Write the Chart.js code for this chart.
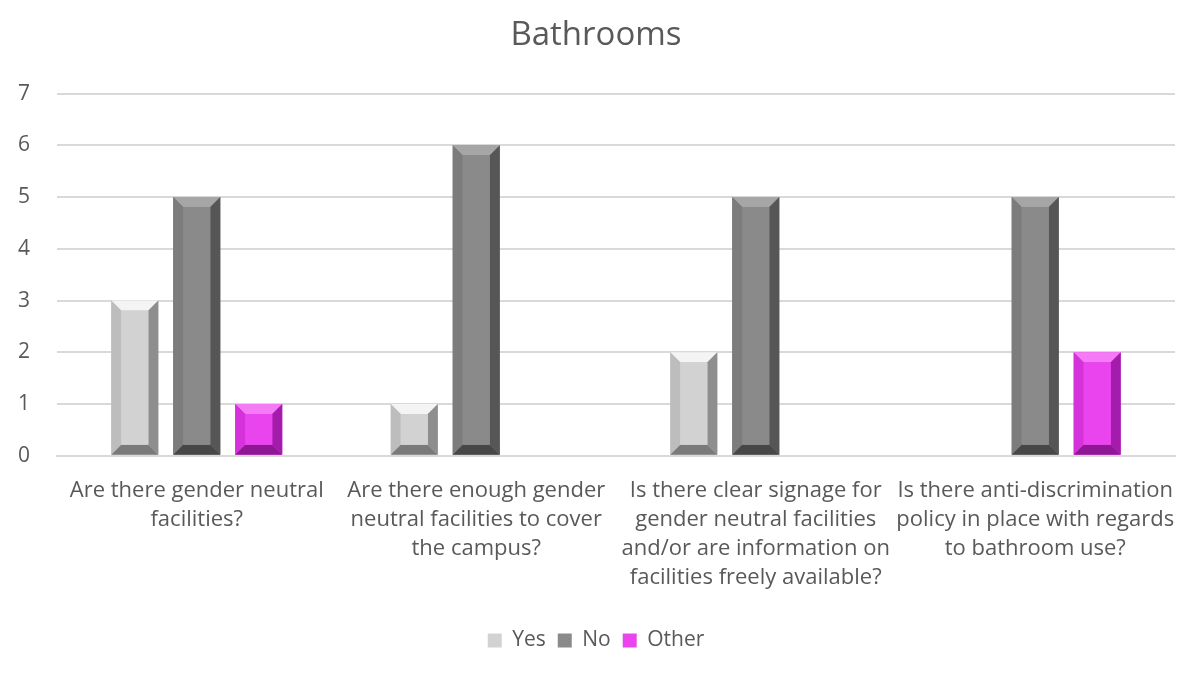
<!DOCTYPE html>
<html>
<head>
<meta charset="utf-8">
<script src="https://cdn.jsdelivr.net/npm/chart.js@4"></script>
<style>
  body { margin: 0; background: #fff; }
  #wrap { width: 1192px; height: 680px; }
</style>
</head>
<body>
<div id="wrap"><canvas id="bath"></canvas></div>
<script>
const categories = [
  ['Are there gender neutral', 'facilities?'],
  ['Are there enough gender', 'neutral facilities to cover', 'the campus?'],
  ['Is there clear signage for', 'gender neutral facilities', 'and/or are information on', 'facilities freely available?'],
  ['Is there anti-discrimination', 'policy in place with regards', 'to bathroom use?']
]
const yes = [3, 1, 2, 0]
const no = [5, 6, 5, 5]
const other = [1, 0, 0, 2]

// face / top / left / right / bottom shades for the bevel look
const shades = [
  { face: '#d2d2d2', top: '#f4f4f4', left: '#bdbdbd', right: '#8e8e8e', bottom: '#7a7a7a' },
  { face: '#8a8a8a', top: '#a6a6a6', left: '#7c7c7c', right: '#565656', bottom: '#474747' },
  { face: '#ea44ee', top: '#f47af6', left: '#d632dc', right: '#a41cab', bottom: '#8e1894' }
]

const bevel = {
  id: 'bevel',
  afterDatasetsDraw(chart) {
    const ctx = chart.ctx
    chart.data.datasets.forEach((ds, i) => {
      const meta = chart.getDatasetMeta(i)
      const s = shades[i]
      meta.data.forEach((bar, j) => {
        if (!ds.data[j]) return
        const p = bar.getProps(['x', 'y', 'base', 'width'], true)
        const l = p.x - p.width / 2, r = p.x + p.width / 2
        const t = p.y, b = p.base
        const d = Math.min(10, (b - t) / 2, p.width / 2)
        const poly = (pts, c) => {
          ctx.beginPath()
          ctx.moveTo(pts[0][0], pts[0][1])
          pts.slice(1).forEach(q => ctx.lineTo(q[0], q[1]))
          ctx.closePath()
          ctx.fillStyle = c
          ctx.fill()
        }
        ctx.save()
        poly([[l, t], [r, t], [r - d, t + d], [l + d, t + d]], s.top)
        poly([[l, t], [l + d, t + d], [l + d, b - d], [l, b]], s.left)
        poly([[r, t], [r, b], [r - d, b - d], [r - d, t + d]], s.right)
        poly([[l, b], [l + d, b - d], [r - d, b - d], [r, b]], s.bottom)
        poly([[l + d, t + d], [r - d, t + d], [r - d, b - d], [l + d, b - d]], s.face)
        ctx.restore()
      })
    })
  }
}

Chart.defaults.font.family = '"Open Sans", Lato, sans-serif'
Chart.defaults.color = '#595959'

new Chart(document.getElementById('bath'), {
  type: 'bar',
  data: {
    labels: categories,
    datasets: [
      { label: 'Yes', data: yes, backgroundColor: shades[0].face, borderWidth: 0 },
      { label: 'No', data: no, backgroundColor: shades[1].face, borderWidth: 0 },
      { label: 'Other', data: other, backgroundColor: shades[2].face, borderWidth: 0 }
    ]
  },
  options: {
    responsive: true,
    maintainAspectRatio: false,
    animation: false,
    layout: { padding: { left: 17, right: 17, top: 10, bottom: 19 } },
    categoryPercentage: 0.665,
    barPercentage: 0.76,
    plugins: {
      title: {
        display: true,
        text: 'Bathrooms',
        font: { size: 33, weight: '400' },
        color: '#595959',
        padding: { top: 6, bottom: 38 }
      },
      legend: {
        position: 'bottom',
        labels: {
          boxWidth: 14,
          boxHeight: 14,
          font: { size: 21 },
          color: '#595959',
          padding: 12
        }
      },
      tooltip: { enabled: false }
    },
    scales: {
      y: {
        min: 0,
        max: 7,
        ticks: { stepSize: 1, font: { size: 21 }, color: '#595959', padding: 27 },
        grid: { color: '#d9d9d9', lineWidth: 2, drawTicks: false },
        border: { display: false },
        afterFit(scale) { scale.width = 40 }
      },
      x: {
        ticks: { font: { size: 22, lineHeight: 1.32 }, color: '#595959', padding: 12, maxRotation: 0, autoSkip: false },
        grid: { display: false },
        border: { color: '#d9d9d9', width: 2 },
        afterFit(scale) {
          scale.height += 14
          scale.paddingLeft = 0
          scale.paddingRight = 0
        }
      }
    }
  },
  plugins: [bevel]
})
</script>
</body>
</html>
